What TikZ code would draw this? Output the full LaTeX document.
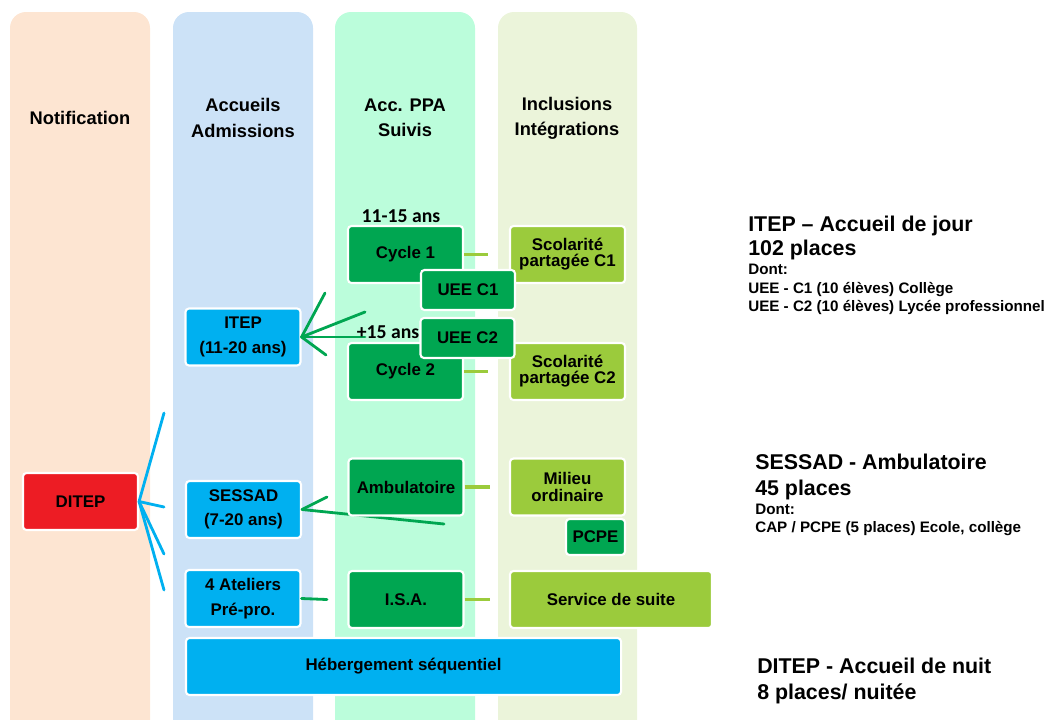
\documentclass[tikz,border=0pt]{standalone}
\usepackage{fontspec}
\setmainfont{Liberation Sans}
\newfontfamily\calib{Carlito}
\usetikzlibrary{positioning}

\definecolor{colNotif}{HTML}{FDE5D2}
\definecolor{colAccueil}{HTML}{CCE2F7}
\definecolor{colPPA}{HTML}{BBFDDB}
\definecolor{colIncl}{HTML}{EBF4DA}
\definecolor{boxBlue}{HTML}{00B0F0}
\definecolor{boxDark}{HTML}{00A651}
\definecolor{boxLight}{HTML}{9BCB3C}
\definecolor{boxRed}{HTML}{ED1C24}

\tikzset{
  column/.style={rounded corners=0.4cm},
  head/.style={align=center, font=\fontsize{13}{18}\selectfont\bfseries},
  box/.style={draw=white, line width=1.5pt, rounded corners=2.5pt, align=center,
    inner sep=1pt, minimum width=2.875cm, minimum height=1.425cm,
    font=\fontsize{12}{17.5}\selectfont\bfseries},
  tight/.style={font=\fontsize{12}{11.5}\selectfont\bfseries},
  agelabel/.style={font=\calib\fontsize{14}{16}\selectfont\bfseries, inner sep=0pt},
  bigtxt/.style={anchor=base west, inner sep=0pt, font=\fontsize{15.2}{17}\selectfont\bfseries},
  smalltxt/.style={anchor=base west, inner sep=0pt, font=\fontsize{10.8}{12}\selectfont\bfseries},
  bluelink/.style={draw=boxBlue, line width=2pt},
  darklink/.style={draw=boxDark, line width=2pt},
  lightlink/.style={draw=boxLight, line width=2.5pt}
}

\begin{document}
\begin{tikzpicture}[x=0.025cm, y=-0.025cm]
  \useasboundingbox (0,0) rectangle (1051,719);
  % columns
  \begin{scope}
    \clip (0,0) rectangle (1051,719);
    \fill[colNotif, column] (10,12) rectangle (150,760);
    \fill[colAccueil, column] (173,12) rectangle (313,760);
    \fill[colPPA, column] (335,12) rectangle (475,760);
    \fill[colIncl, column] (498,12) rectangle (637,760);
  \end{scope}
  \node[head] (hNotif) at (80,118) {Notification};
  \node[head] (hAccueil) at (243,118) {Accueils\\Admissions};
  \node[head] (hPPA) at (405,118) {Acc. PPA\\Suivis};
  \node[head] (hIncl) at (567,118) {Inclusions\\Intégrations};

  % free ends of the connectors
  \coordinate (df1) at (164,413);
  \coordinate (df2) at (164,507);
  \coordinate (df3) at (164,554);
  \coordinate (df4) at (164,590);
  \coordinate (if1) at (325,293);
  \coordinate (if2) at (365,312);
  \coordinate (if3) at (365,337);
  \coordinate (if4) at (326,355);
  \coordinate (sf1) at (327,497);
  \coordinate (sf2) at (444,524);
  \coordinate (af1) at (327,599.5);

  % left column boxes
  \node[box, fill=boxRed] (ditep) at (80.5,501.5) {DITEP};
  \node[box, fill=boxBlue] (itep) at (243,337) {ITEP\\(11-20 ans)};
  \node[box, fill=boxBlue] (sessad) at (243.5,509.5) {SESSAD\\(7-20 ans)};
  \node[box, fill=boxBlue] (ateliers) at (243,598.5) {4 Ateliers\\Pré-pro.};
  \node[box, fill=boxBlue, minimum width=10.875cm] (heberg) at (403.5,666.5) {Hébergement séquentiel};

  \begin{scope}[line cap=round]
    \draw[bluelink] (ditep.east) -- (df1);
    \draw[bluelink] (ditep.east) -- (df2);
    \draw[bluelink] (ditep.east) -- (df3);
    \draw[bluelink] (ditep.east) -- (df4);
    \draw[darklink] (itep.east) -- (if1);
    \draw[darklink] (itep.east) -- (if2);
    \draw[darklink] (itep.east) -- (if3);
    \draw[darklink] (itep.east) -- (if4);
    \draw[darklink] (sessad.east) -- (sf1);
    \draw[darklink] (sessad.east) -- (sf2);
    \draw[darklink] (ateliers.east) -- (af1);
  \end{scope}

  % PPA column
  \node[agelabel] (age1) at (401,216) {11-15 ans};
  \node[box, fill=boxDark] (cycle1) at (405.5,254.5) {Cycle 1};
  \node[box, fill=boxDark] (cycle2) at (405.5,371.5) {Cycle 2};
  \node[agelabel] (age2) at (388,332) {+15 ans};
  \node[box, fill=boxDark] (ambu) at (406,487) {Ambulatoire};
  \node[box, fill=boxDark] (isa) at (406,599.5) {I.S.A.};

  % inclusions column
  \node[box, fill=boxLight, tight] (scol1) at (567.5,254.5) {Scolarité\\partagée C1};
  \node[box, fill=boxLight, tight] (scol2) at (567.5,371.5) {Scolarité\\partagée C2};
  \node[box, fill=boxLight, tight] (milieu) at (567.5,487) {Milieu\\ordinaire};
  \node[box, fill=boxDark, minimum width=1.475cm, minimum height=0.9cm] (pcpe) at (595.5,537) {PCPE};
  \node[box, fill=boxLight, minimum width=5.05cm] (suite) at (611,599.5) {Service de suite};

  \node[box, fill=boxDark, minimum width=2.35cm, minimum height=1cm] (ueec1) at (468,290) {UEE C1};
  \node[box, fill=boxDark, minimum width=2.35cm, minimum height=1cm] (ueec2) at (467.5,338) {UEE C2};

  \coordinate (l1) at (488,254.5);
  \coordinate (l2) at (488,371.5);
  \coordinate (l3) at (490,487);
  \coordinate (l4) at (490,599.5);
  \draw[lightlink] (cycle1.east) -- (l1);
  \draw[lightlink] (cycle2.east) -- (l2);
  \draw[lightlink] (ambu.east) -- (l3);
  \draw[lightlink] (isa.east) -- (l4);

  % capacities
  \node[bigtxt] (itepA) at (748,231) {ITEP – Accueil de jour};
  \node[bigtxt] (itepB) at (748,255) {102 places};
  \node[smalltxt] (itepC) at (748,274) {Dont:};
  \node[smalltxt] (itepD) at (748,293) {UEE - C1 (10 élèves) Collège};
  \node[smalltxt] (itepE) at (748,311) {UEE - C2 (10 élèves) Lycée professionnel};
  \node[bigtxt] (sessA) at (755,469) {SESSAD - Ambulatoire};
  \node[bigtxt] (sessB) at (755,495) {45 places};
  \node[smalltxt] (sessC) at (755,514) {Dont:};
  \node[smalltxt] (sessD) at (755,532) {CAP / PCPE (5 places) Ecole, collège};
  \node[bigtxt] (nuitA) at (757,673) {DITEP - Accueil de nuit};
  \node[bigtxt] (nuitB) at (757,699) {8 places/ nuitée};
\end{tikzpicture}
\end{document}
